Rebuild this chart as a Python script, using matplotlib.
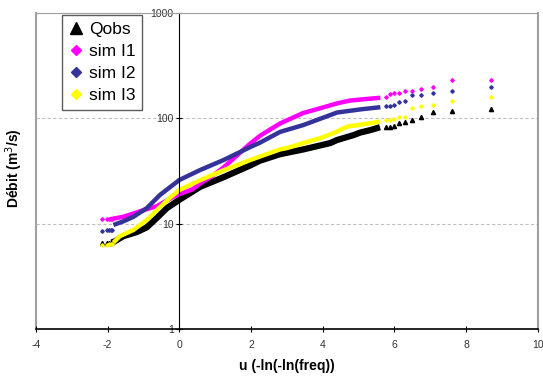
import matplotlib
matplotlib.use('Agg')
import matplotlib.pyplot as plt
from matplotlib.lines import Line2D

plt.rcParams['font.family'] = ['Liberation Sans', 'DejaVu Sans']
plt.rcParams['axes.unicode_minus'] = False

# points isoles (plus faibles et plus fortes valeurs), u = -ln(-ln(freq))
u_low = [-2.16, -2.03, -1.96, -1.92, -1.89]
u_tail = [5.76, 5.87, 5.99, 6.13, 6.30, 6.50, 6.75, 7.09, 7.60, 8.69]

# Qobs
u_obs = [-1.89, -1.80, -1.56, -1.19, -0.91, -0.63, -0.35, 0.0, 0.58, 1.23, 1.97,
         2.25, 2.81, 3.46, 4.21, 4.40, 4.86, 5.05, 5.33, 5.60]
q_obs = [6.6, 6.8, 7.6, 8.3, 9.2, 11.3, 14.0, 16.8, 22.3, 27.5, 35.5,
         39.5, 45.5, 50.5, 58.0, 62.0, 69.0, 73.0, 77.0, 82.0]
q_obs_low = [6.5, 6.6, 6.6, 6.6, 6.7]
q_obs_tail = [82, 83, 84, 89.5, 91.5, 96, 103, 114, 117, 121]

# sim I1
u_s1 = [-1.93, -1.56, -1.24, -1.00, -0.63, -0.26, 0.0, 0.35, 0.58, 0.90, 1.23,
        1.60, 1.97, 2.25, 2.81, 3.46, 3.93, 4.40, 4.77, 5.23, 5.61]
q_s1 = [11.0, 11.6, 12.6, 13.4, 14.6, 17.2, 19.1, 21.0, 24.0, 28.0, 34.0,
        44.0, 57.0, 68.0, 89.0, 112, 124, 138, 147, 152, 156]
q_s1_low = [11.0, 11.0, 11.0, 11.0, 11.0]
q_s1_tail = [157, 168, 172, 175, 182, 182, 188, 199, 228, 228]

# sim I2
u_s2 = [-1.84, -1.56, -1.28, -0.91, -0.54, 0.0, 0.58, 1.23, 1.97, 2.25, 2.81,
        3.46, 4.40, 5.05, 5.61]
q_s2 = [9.7, 10.5, 11.6, 14.0, 18.7, 25.9, 32.2, 40.0, 53.0, 58.5, 74.0,
        86.0, 113, 121, 127]
q_s2_low = [8.5, 8.6, 8.6, 8.6, 8.6]
q_s2_tail = [131, 131, 133, 142, 144, 165, 166, 175, 182, 198]

# sim I3
u_s3 = [-1.84, -1.66, -1.28, -0.91, -0.54, -0.26, 0.0, 0.58, 1.23, 1.97, 2.81,
        3.00, 3.74, 3.93, 4.30, 4.68, 5.33, 5.61]
q_s3 = [6.6, 7.6, 8.7, 10.8, 14.3, 17.6, 20.8, 25.8, 32.0, 40.0, 50.5,
        52.0, 62.0, 64.5, 72.0, 83.0, 89.5, 93.0]
q_s3_low = [6.3, 6.3, 6.4, 6.4, 6.4]
q_s3_tail = [96, 96, 99, 102, 103, 125, 129, 134, 144, 160]

series = [
    ('Qobs', 'black', '^', 4.5, 3.0, u_obs, q_obs, q_obs_low, q_obs_tail),
    ('sim I1', '#FF00FF', 'D', 3.2, 1.8, u_s1, q_s1, q_s1_low, q_s1_tail),
    ('sim I2', '#333399', 'D', 3.2, 1.8, u_s2, q_s2, q_s2_low, q_s2_tail),
    ('sim I3', '#FFFF00', 'D', 3.2, 1.8, u_s3, q_s3, q_s3_low, q_s3_tail),
]

fig = plt.figure(figsize=(5.43, 3.78), dpi=100)
ax = fig.add_axes([36 / 543, 49 / 378, 501.7 / 543, 316.3 / 378])

for name, col, mk, lw, ms, u, q, q_low, q_tail in series:
    ax.plot(u, q, color=col, lw=lw, solid_capstyle='butt')
    ax.plot(u_low + u_tail, q_low + q_tail, ls='none', marker=mk, ms=ms,
            color=col, mec=col)

ax.set_yscale('log')
ax.set_xlim(-4, 10)
ax.set_ylim(1, 1000)
ax.set_xticks(range(-4, 11, 2))
ax.set_xticklabels([str(v) for v in range(-4, 11, 2)])
ax.set_yticks([1, 10, 100, 1000])
ax.set_yticklabels(['1', '10', '100', '1000'])
ax.minorticks_off()
ax.tick_params(axis='both', labelsize=7.5, labelcolor='#333333', width=0.8)
ax.tick_params(axis='x', direction='inout', length=4, pad=6)
ax.tick_params(axis='y', direction='inout', length=4, pad=2)

ax.yaxis.grid(True, ls=(0, (3, 2)), color='#c0c0c0', lw=0.8)
ax.set_axisbelow(True)

gray = '#a0a0a0'
ax.spines['left'].set_position(('data', 0))
ax.spines['left'].set_color('black')
ax.spines['bottom'].set_color('black')
ax.spines['bottom'].set_linewidth(1.2)
ax.spines['top'].set_color(gray)
ax.spines['right'].set_color(gray)
ax.spines['right'].set_linewidth(1.5)
ax.axvline(-4, color=gray, lw=1.5, clip_on=False, zorder=0)

fig.text(287 / 543, 1 - 366 / 378, 'u (-ln(-ln(freq))', ha='center', va='center',
         fontsize=10, fontweight='bold')
fig.text(14 / 543, 1 - 168 / 378, 'Débit (m$^3$/s)', ha='center', va='center',
         rotation=90, fontsize=10, fontweight='bold')

handles = [Line2D([], [], ls='none', marker=s[2], color=s[1], mec=s[1],
                  ms=8 if s[2] == '^' else 5.5) for s in series]
leg = ax.legend(handles, [s[0] for s in series], loc='upper left',
                bbox_to_anchor=(62 / 543, 1 - 15 / 378), bbox_transform=fig.transFigure,
                fontsize=12.5, frameon=True, fancybox=False, edgecolor='#333333',
                handlelength=0.8, handletextpad=0.35, labelspacing=0.4,
                borderpad=0.4, borderaxespad=0)
leg.get_frame().set_linewidth(1.0)

fig.savefig('out.png', dpi=100)
